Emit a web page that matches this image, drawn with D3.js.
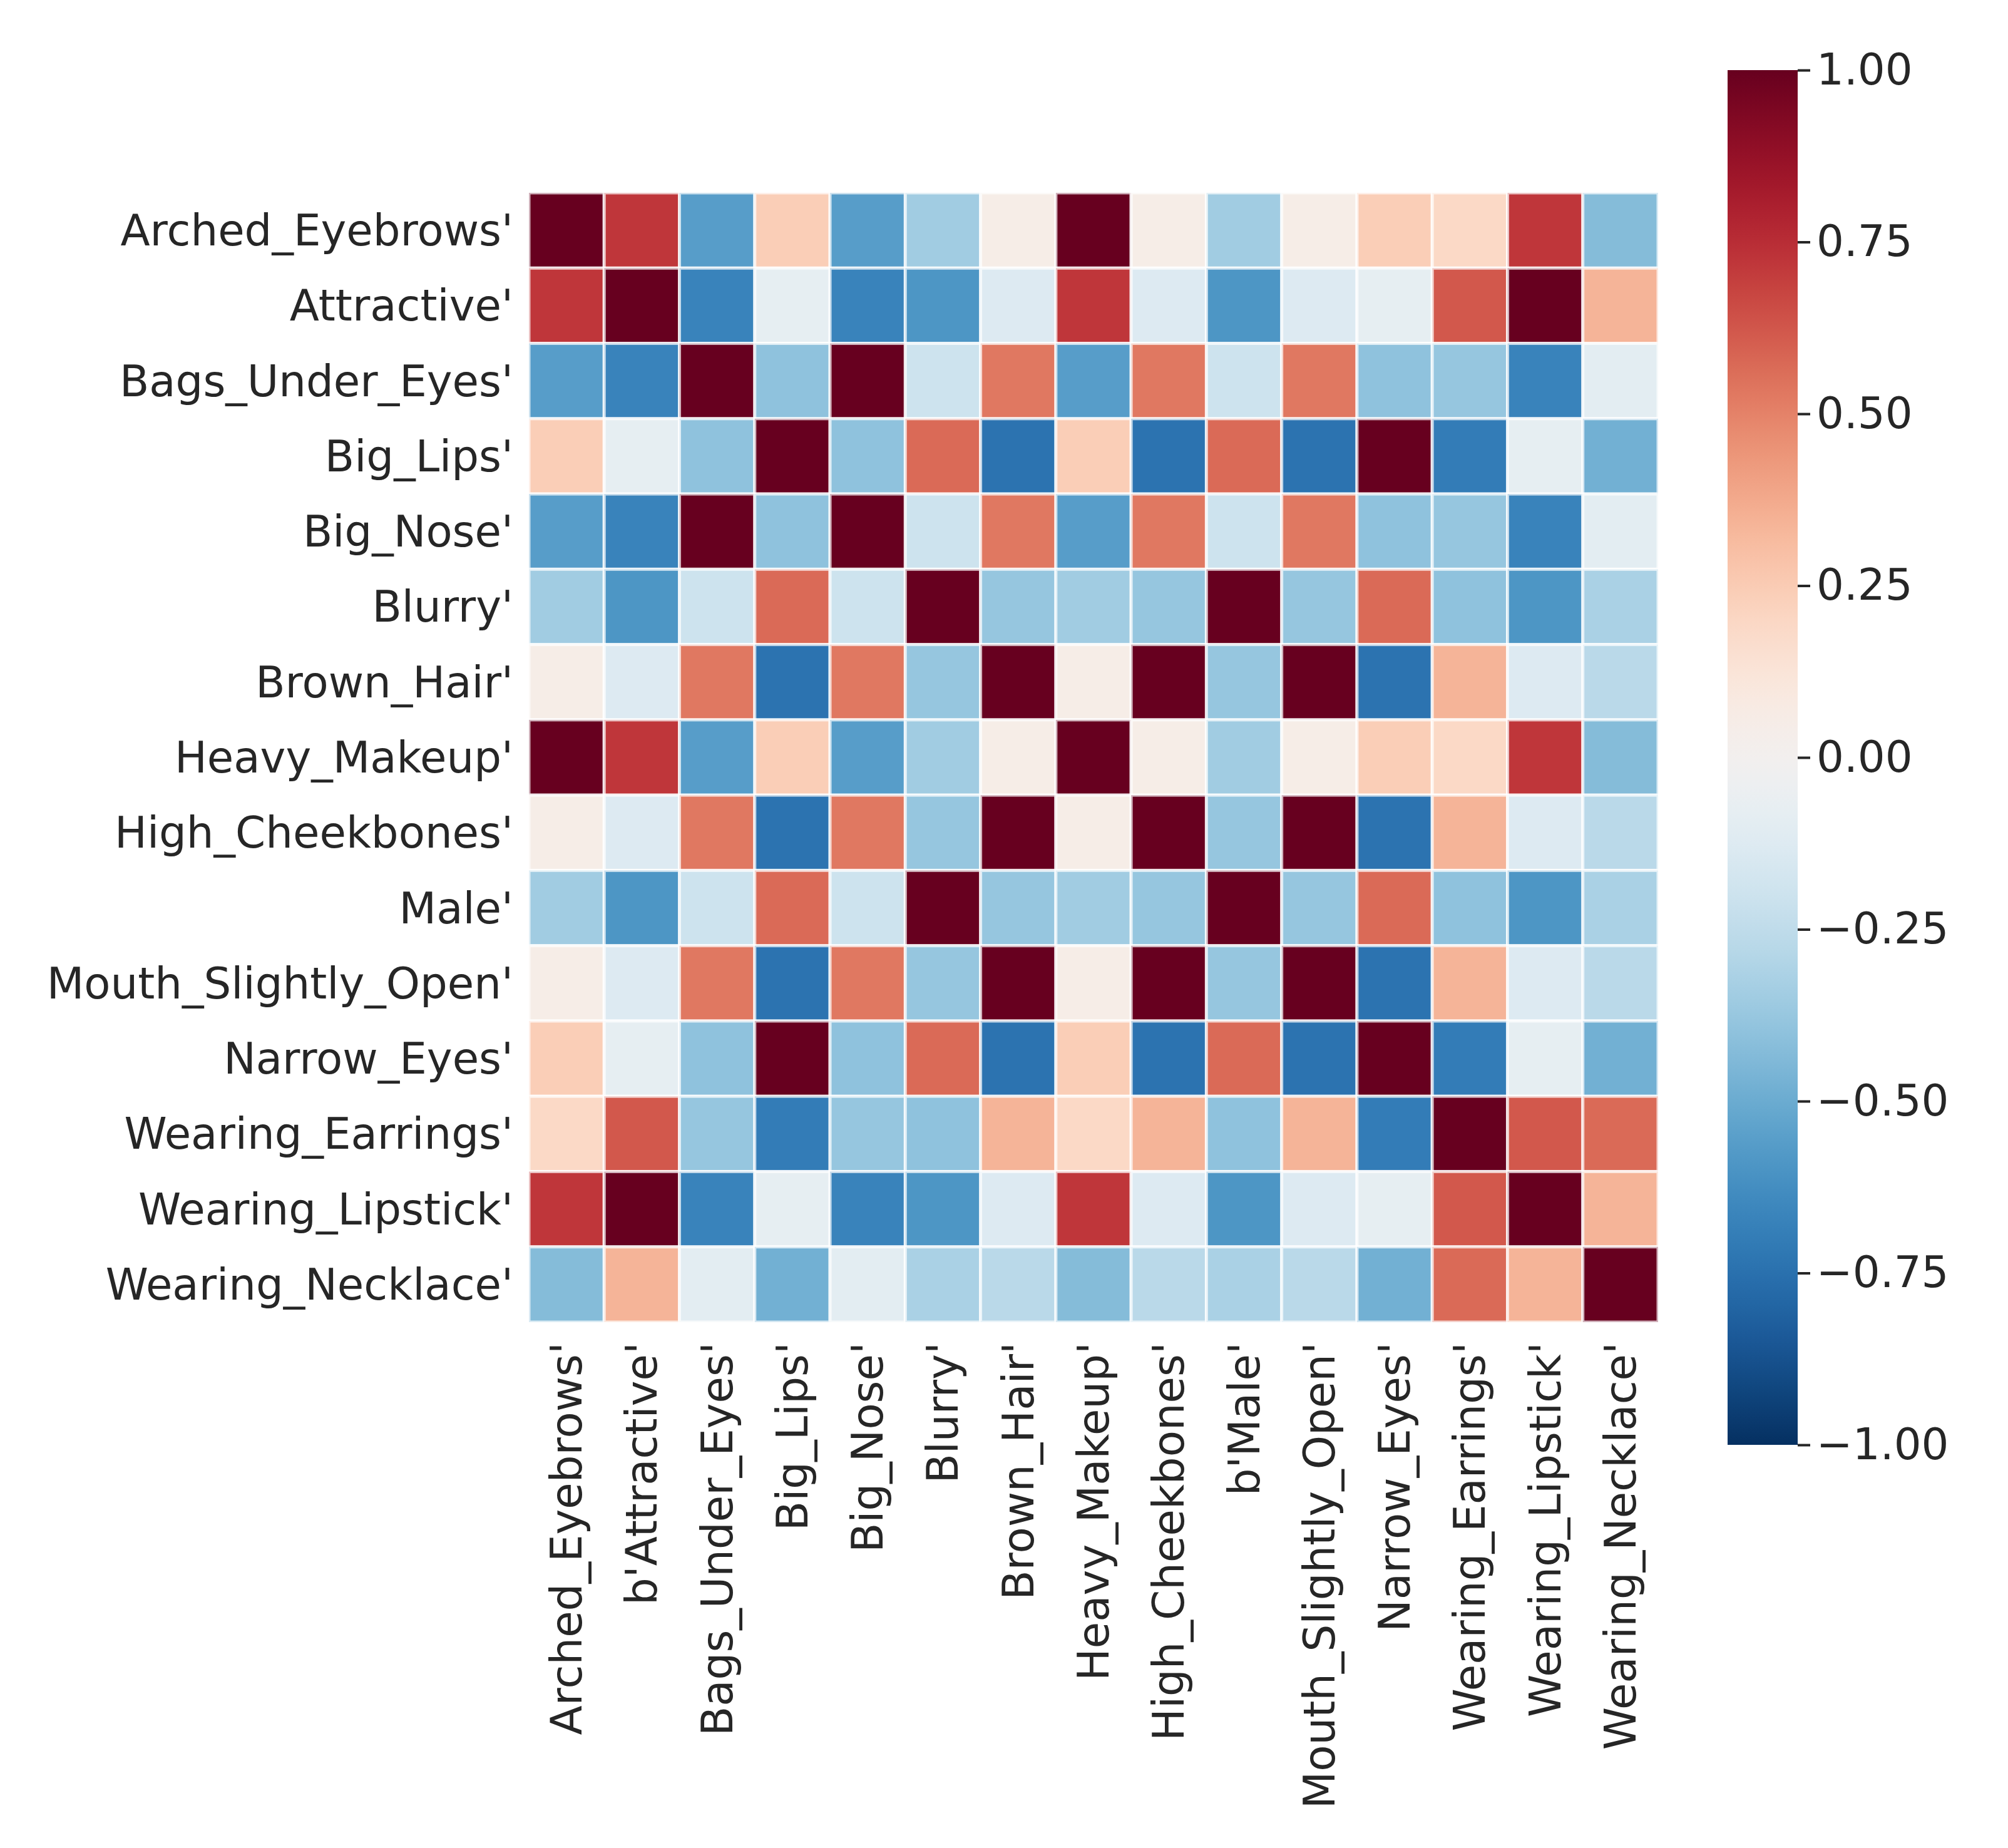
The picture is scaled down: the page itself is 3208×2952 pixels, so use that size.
<!DOCTYPE html>
<html lang="en">
<head>
<meta charset="UTF-8">
<title>Attribute correlation heatmap</title>
<script src="https://cdn.jsdelivr.net/npm/d3@7"></script>
<style>
  body { margin: 0; background: #fff; }
  text { font-family: "DejaVu Sans", sans-serif; fill: #262626; }
</style>
</head>
<body>
<script>
// row labels (y axis) and column labels (x axis) as printed in the figure
var rowLabels = ["Arched_Eyebrows'", "Attractive'", "Bags_Under_Eyes'", "Big_Lips'", "Big_Nose'",
    "Blurry'", "Brown_Hair'", "Heavy_Makeup'", "High_Cheekbones'", "Male'",
    "Mouth_Slightly_Open'", "Narrow_Eyes'", "Wearing_Earrings'", "Wearing_Lipstick'", "Wearing_Necklace'"];
var colLabels = ["Arched_Eyebrows'", "b'Attractive'", "Bags_Under_Eyes'", "Big_Lips'", "Big_Nose'",
    "Blurry'", "Brown_Hair'", "Heavy_Makeup'", "High_Cheekbones'", "b'Male'",
    "Mouth_Slightly_Open'", "Narrow_Eyes'", "Wearing_Earrings'", "Wearing_Lipstick'", "Wearing_Necklace'"];

// correlation values, one row per attribute
var corr = [
    [ 1.00,  0.72, -0.56,  0.24, -0.56, -0.35,  0.05,  1.00,  0.05, -0.35,  0.05,  0.24,  0.19,  0.72, -0.43],
    [ 0.72,  1.00, -0.67, -0.08, -0.67, -0.59, -0.13,  0.72, -0.13, -0.59, -0.13, -0.08,  0.62,  1.00,  0.34],
    [-0.56, -0.67,  1.00, -0.40,  1.00, -0.20,  0.53, -0.56,  0.53, -0.20,  0.53, -0.40, -0.38, -0.67, -0.10],
    [ 0.24, -0.08, -0.40,  1.00, -0.40,  0.57, -0.74,  0.24, -0.74,  0.57, -0.74,  1.00, -0.70, -0.08, -0.48],
    [-0.56, -0.67,  1.00, -0.40,  1.00, -0.20,  0.53, -0.56,  0.53, -0.20,  0.53, -0.40, -0.38, -0.67, -0.10],
    [-0.35, -0.59, -0.20,  0.57, -0.20,  1.00, -0.38, -0.35, -0.38,  1.00, -0.38,  0.57, -0.40, -0.59, -0.32],
    [ 0.05, -0.13,  0.53, -0.74,  0.53, -0.38,  1.00,  0.05,  1.00, -0.38,  1.00, -0.74,  0.34, -0.13, -0.27],
    [ 1.00,  0.72, -0.56,  0.24, -0.56, -0.35,  0.05,  1.00,  0.05, -0.35,  0.05,  0.24,  0.19,  0.72, -0.43],
    [ 0.05, -0.13,  0.53, -0.74,  0.53, -0.38,  1.00,  0.05,  1.00, -0.38,  1.00, -0.74,  0.34, -0.13, -0.27],
    [-0.35, -0.59, -0.20,  0.57, -0.20,  1.00, -0.38, -0.35, -0.38,  1.00, -0.38,  0.57, -0.40, -0.59, -0.32],
    [ 0.05, -0.13,  0.53, -0.74,  0.53, -0.38,  1.00,  0.05,  1.00, -0.38,  1.00, -0.74,  0.34, -0.13, -0.27],
    [ 0.24, -0.08, -0.40,  1.00, -0.40,  0.57, -0.74,  0.24, -0.74,  0.57, -0.74,  1.00, -0.70, -0.08, -0.48],
    [ 0.19,  0.62, -0.38, -0.70, -0.38, -0.40,  0.34,  0.19,  0.34, -0.40,  0.34, -0.70,  1.00,  0.62,  0.57],
    [ 0.72,  1.00, -0.67, -0.08, -0.67, -0.59, -0.13,  0.72, -0.13, -0.59, -0.13, -0.08,  0.62,  1.00,  0.34],
    [-0.43,  0.34, -0.10, -0.48, -0.10, -0.32, -0.27, -0.43, -0.27, -0.32, -0.27, -0.48,  0.57,  0.34,  1.00]
];

var colorbarTicks = [-1, -0.75, -0.5, -0.25, 0, 0.25, 0.5, 0.75, 1];

var W = 3208, H = 2952;
var grid = {left: 845, top: 308, size: 1804};
var bar = {left: 2760, width: 112, top: 112, bottom: 2308};
var fontSize = 69;

var svg = d3.select('body').append('svg')
    .attr('width', W)
    .attr('height', H)
    .attr('viewBox', '0 0 ' + W + ' ' + H);

svg.append('rect').attr('width', W).attr('height', H).attr('fill', '#fff');

var color = d3.scaleSequential(function (t) { return d3.interpolateRdBu(1 - t); })
    .domain([-1, 1]);

var x = d3.scaleBand().domain(d3.range(colLabels.length))
    .range([grid.left, grid.left + grid.size]);
var y = d3.scaleBand().domain(d3.range(rowLabels.length))
    .range([grid.top, grid.top + grid.size]);

// flatten the matrix into cells
var cells = [];
corr.forEach(function (row, i) {
    row.forEach(function (v, j) {
        cells.push({r: i, c: j, v: v});
    });
});

svg.append('g').selectAll('rect')
    .data(cells)
    .enter()
    .append('rect')
    .attr('x', function (d) { return x(d.c); })
    .attr('y', function (d) { return y(d.r); })
    .attr('width', x.bandwidth())
    .attr('height', y.bandwidth())
    .attr('fill', function (d) { return color(d.v); })
    .attr('stroke', '#fff')
    .attr('stroke-opacity', 0.7)
    .attr('stroke-width', 5);

// y tick labels
svg.append('g').selectAll('text')
    .data(rowLabels)
    .enter()
    .append('text')
    .attr('x', grid.left - 25)
    .attr('y', function (d, i) { return y(i) + y.bandwidth() / 2; })
    .attr('text-anchor', 'end')
    .attr('dominant-baseline', 'central')
    .attr('font-size', fontSize)
    .text(function (d) { return d; });

// x tick labels, rotated
svg.append('g').selectAll('text')
    .data(colLabels)
    .enter()
    .append('text')
    .attr('transform', function (d, i) {
        return 'translate(' + (x(i) + x.bandwidth() / 2) + ',' + (grid.top + grid.size + 32) + ') rotate(-90)';
    })
    .attr('text-anchor', 'end')
    .attr('dominant-baseline', 'central')
    .attr('font-size', fontSize)
    .text(function (d) { return d; });

// colorbar
var defs = svg.append('defs');
var grad = defs.append('linearGradient')
    .attr('id', 'cbar')
    .attr('x1', 0).attr('y1', 1).attr('x2', 0).attr('y2', 0);
d3.range(0, 1.0001, 0.02).forEach(function (t) {
    grad.append('stop')
        .attr('offset', t)
        .attr('stop-color', color(-1 + 2 * t));
});

svg.append('rect')
    .attr('x', bar.left)
    .attr('y', bar.top)
    .attr('width', bar.width)
    .attr('height', bar.bottom - bar.top)
    .attr('fill', 'url(#cbar)');

var cy = d3.scaleLinear().domain([-1, 1]).range([bar.bottom, bar.top]);
var fmt = d3.format('.2f');

var axis = svg.append('g')
    .attr('transform', 'translate(' + (bar.left + bar.width) + ',0)')
    .call(d3.axisRight(cy)
        .tickValues(colorbarTicks)
        .tickSize(20)
        .tickPadding(10)
        .tickFormat(function (d) { return fmt(d).replace('-', '\u2212'); }));

axis.select('.domain').remove();
axis.selectAll('line').attr('stroke', '#262626').attr('stroke-width', 4);
axis.selectAll('text')
    .attr('font-size', fontSize)
    .attr('font-family', '"DejaVu Sans", sans-serif')
    .attr('fill', '#262626');
</script>
</body>
</html>
